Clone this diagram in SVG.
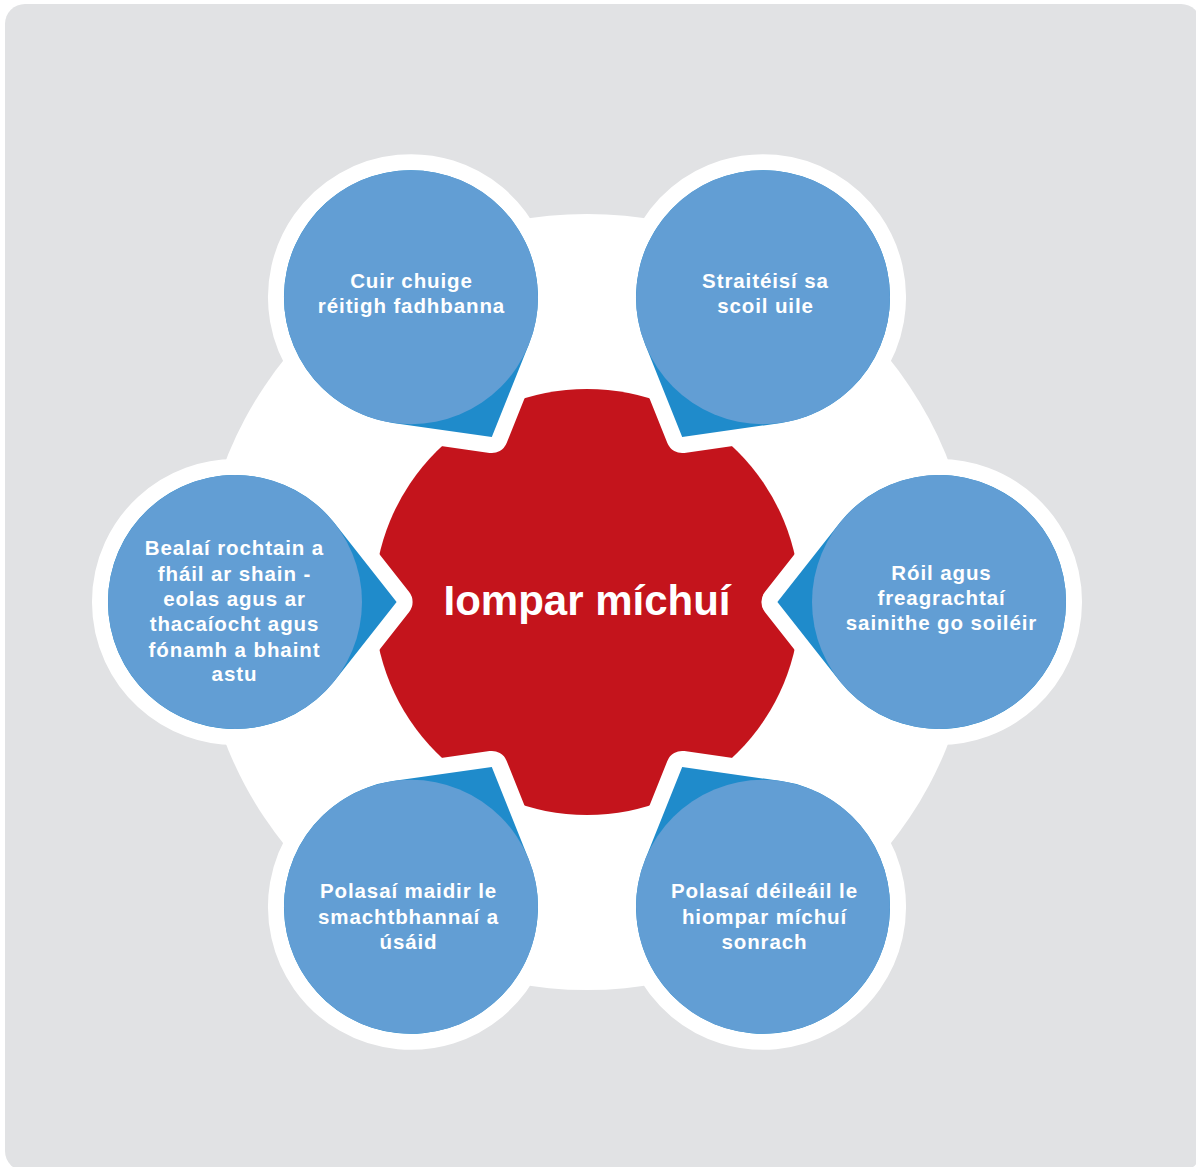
<svg xmlns="http://www.w3.org/2000/svg" width="1196" height="1167" viewBox="0 0 1196 1167">
<style>
.bg{fill:#e1e2e4}
.tail{fill:#1f8bcb;stroke:#ffffff;stroke-width:32;stroke-linejoin:round;paint-order:stroke}
.disc{fill:#629ed4}
.lbl{font-family:"Liberation Sans",Arial,Helvetica,sans-serif;font-weight:bold;font-size:20.5px;letter-spacing:0.9px;fill:#ffffff;text-anchor:middle}
.core{font-family:"Liberation Sans",Arial,Helvetica,sans-serif;font-weight:bold;font-size:42px;fill:#ffffff;text-anchor:middle}
</style>
<rect class="bg" x="5" y="4" width="1196" height="1167" rx="20" ry="20"/>
<circle cx="587" cy="602" r="388" fill="#ffffff"/>
<g id="center">
<circle cx="587" cy="602" r="213" fill="#c4141c"/>
<text class="core" x="587" y="615">Iompar míchuí</text>
</g>
<g id="connectors"></g>
<g id="node-tl">
<path class="tail" d="M392.9,422.9 L491.8,437.1 L528.9,344.3 A127,127 0 1 0 392.9,422.9 Z"/>
<circle class="disc" cx="411" cy="297.2" r="127"/>
<text class="lbl" x="411.5" y="288">Cuir chuige</text>
<text class="lbl" x="411.5" y="313">réitigh fadhbanna</text>
</g>
<g id="node-tr">
<path class="tail" d="M645.1,344.3 L682.2,437.1 L781.1,422.9 A127,127 0 1 0 645.1,344.3 Z"/>
<circle class="disc" cx="763" cy="297.2" r="127"/>
<text class="lbl" x="765.5" y="288">Straitéisí sa</text>
<text class="lbl" x="765.5" y="313">scoil uile</text>
</g>
<g id="node-r">
<path class="tail" d="M839.2,523.5 L777.4,602 L839.2,680.5 A127,127 0 1 0 839.2,523.5 Z"/>
<circle class="disc" cx="939" cy="602" r="127"/>
<text class="lbl" x="941.5" y="580">Róil agus</text>
<text class="lbl" x="941.5" y="605">freagrachtaí</text>
<text class="lbl" x="941.5" y="630">sainithe go soiléir</text>
</g>
<g id="node-br">
<path class="tail" d="M781.1,781.1 L682.2,766.9 L645.1,859.7 A127,127 0 1 0 781.1,781.1 Z"/>
<circle class="disc" cx="763" cy="906.8" r="127"/>
<text class="lbl" x="764.5" y="898">Polasaí déileáil le</text>
<text class="lbl" x="764.5" y="923.5">hiompar míchuí</text>
<text class="lbl" x="764.5" y="949">sonrach</text>
</g>
<g id="node-bl">
<path class="tail" d="M528.9,859.7 L491.8,766.9 L392.9,781.1 A127,127 0 1 0 528.9,859.7 Z"/>
<circle class="disc" cx="411" cy="906.8" r="127"/>
<text class="lbl" x="408.5" y="898">Polasaí maidir le</text>
<text class="lbl" x="408.5" y="923.5">smachtbhannaí a</text>
<text class="lbl" x="408.5" y="949">úsáid</text>
</g>
<g id="node-l">
<path class="tail" d="M334.8,680.5 L396.6,602 L334.8,523.5 A127,127 0 1 0 334.8,680.5 Z"/>
<circle class="disc" cx="235" cy="602" r="127"/>
<text class="lbl" x="234.5" y="555">Bealaí rochtain a</text>
<text class="lbl" x="234.5" y="580.5">fháil ar shain -</text>
<text class="lbl" x="234.5" y="606">eolas agus ar</text>
<text class="lbl" x="234.5" y="631">thacaíocht agus</text>
<text class="lbl" x="234.5" y="656.5">fónamh a bhaint</text>
<text class="lbl" x="234.5" y="681">astu</text>
</g>
</svg>
